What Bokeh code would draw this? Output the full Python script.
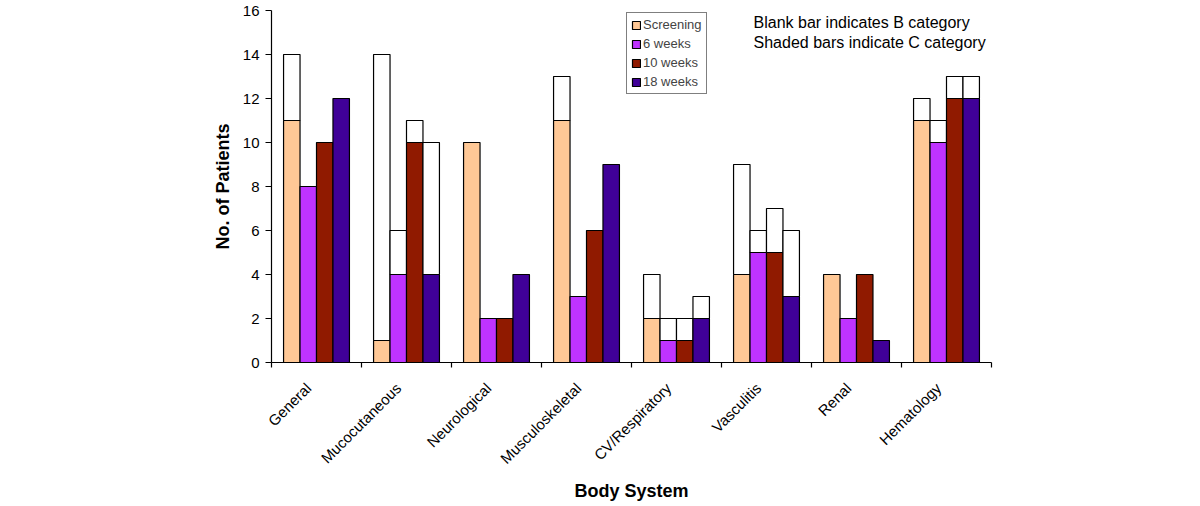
import math
from bokeh.plotting import figure
from bokeh.models import (ColumnDataSource, Range1d, FixedTicker, Legend, LegendItem, Label)
from bokeh.embed import file_html
from bokeh.resources import INLINE

categories = ["General", "Mucocutaneous", "Neurological", "Musculoskeletal",
              "CV/Respiratory", "Vasculitis", "Renal", "Hematology"]
series = ["Screening", "6 weeks", "10 weeks", "18 weeks"]
colors = ["#FFC896", "#BF33FF", "#901A00", "#400098"]

# Shaded (C category) counts
screening_c = [11, 1, 10, 11, 2, 4, 4, 11]
w6_c = [8, 4, 2, 3, 1, 5, 2, 10]
w10_c = [10, 10, 2, 6, 1, 5, 4, 12]
w18_c = [12, 4, 4, 9, 2, 3, 1, 12]
# Blank (B category) counts, stacked on top
screening_b = [3, 13, 0, 2, 2, 5, 0, 1]
w6_b = [0, 2, 0, 0, 1, 1, 0, 1]
w10_b = [0, 1, 0, 0, 1, 2, 0, 1]
w18_b = [0, 6, 0, 0, 1, 3, 0, 1]

y_ticks = [0, 2, 4, 6, 8, 10, 12, 14, 16]

c_vals = [screening_c, w6_c, w10_c, w18_c]
b_vals = [screening_b, w6_b, w10_b, w18_b]

FONT = "Liberation Sans"
n = len(categories)
bw = 0.183

p = figure(output_backend="svg", toolbar_location=None,
           frame_width=720, frame_height=352,
           min_border_left=271, min_border_right=201,
           min_border_top=10, min_border_bottom=136,
           x_range=Range1d(0, n), y_range=Range1d(0, 16))
p.outline_line_color = None
p.xgrid.grid_line_color = None
p.ygrid.grid_line_color = None
p.background_fill_color = "white"
p.border_fill_color = "white"

renderers = []
for k, (name, col) in enumerate(zip(series, colors)):
    off = (k - 1.5) * bw
    xs = [i + 0.5 + off for i in range(n)]
    src = ColumnDataSource(dict(x=xs, top=c_vals[k]))
    r = p.vbar(x="x", top="top", bottom=0, width=bw, source=src,
               fill_color=col, line_color="black", line_width=1.2)
    renderers.append(r)
    bx, bb, bt = [], [], []
    for i in range(n):
        if b_vals[k][i] > 0:
            bx.append(xs[i]); bb.append(c_vals[k][i]); bt.append(c_vals[k][i] + b_vals[k][i])
    src2 = ColumnDataSource(dict(x=bx, bottom=bb, top=bt))
    p.vbar(x="x", top="top", bottom="bottom", width=bw, source=src2,
           fill_color="white", line_color="black", line_width=1.2)

# X axis
xa = p.xaxis[0]
label_pos = [i + 0.5 - 0.09 for i in range(n)]
xa.ticker = FixedTicker(ticks=label_pos, minor_ticks=list(range(n + 1)))
xa.major_label_overrides = {pos: cat for pos, cat in zip(label_pos, categories)}
xa.major_label_orientation = math.pi / 4
xa.major_tick_line_color = None
xa.major_tick_out = 0
xa.major_tick_in = 0
xa.minor_tick_line_color = "black"
xa.minor_tick_out = 5
xa.minor_tick_in = 0
xa.minor_tick_line_width = 1.2
xa.major_label_standoff = 18
xa.major_label_text_font = FONT
xa.major_label_text_font_size = "15px"
xa.major_label_text_color = "black"
xa.axis_line_color = "black"
xa.axis_line_width = 1.2
xa.axis_label = "Body System"
xa.axis_label_text_font = FONT
xa.axis_label_text_font_style = "bold"
xa.axis_label_text_font_size = "18px"
xa.axis_label_text_color = "black"
xa.axis_label_standoff = 5

# Y axis
ya = p.yaxis[0]
ya.ticker = FixedTicker(ticks=y_ticks)
ya.minor_tick_line_color = None
ya.major_tick_out = 6
ya.major_tick_in = 0
ya.major_tick_line_color = "black"
ya.major_tick_line_width = 1.2
ya.axis_line_color = "black"
ya.axis_line_width = 1.2
ya.major_label_standoff = 6
ya.major_label_text_font = FONT
ya.major_label_text_font_size = "15px"
ya.major_label_text_color = "black"
ya.axis_label = "No. of Patients"
ya.axis_label_text_font = FONT
ya.axis_label_text_font_style = "bold"
ya.axis_label_text_font_size = "18px"
ya.axis_label_text_color = "black"
ya.axis_label_standoff = 7

legend = Legend(items=[LegendItem(label=s, renderers=[r]) for s, r in zip(series, renderers)],
                location=(355, 268), orientation="vertical",
                glyph_width=10, glyph_height=10, label_height=15, spacing=4,
                padding=4, margin=0, label_standoff=2,
                label_text_font=FONT, label_text_font_size="13px",
                border_line_color="black", border_line_width=1.5,
                background_fill_color="white", background_fill_alpha=1)
p.add_layout(legend, "center")

for txt, yv in [("Blank bar indicates B category", 15.45),
                ("Shaded bars indicate C category", 14.55)]:
    p.add_layout(Label(x=5.356, y=yv, text=txt, text_font=FONT, text_font_size="16px",
                       text_baseline="middle", text_align="left", text_color="black"))

open("out.html", "w").write(file_html(p, INLINE))
